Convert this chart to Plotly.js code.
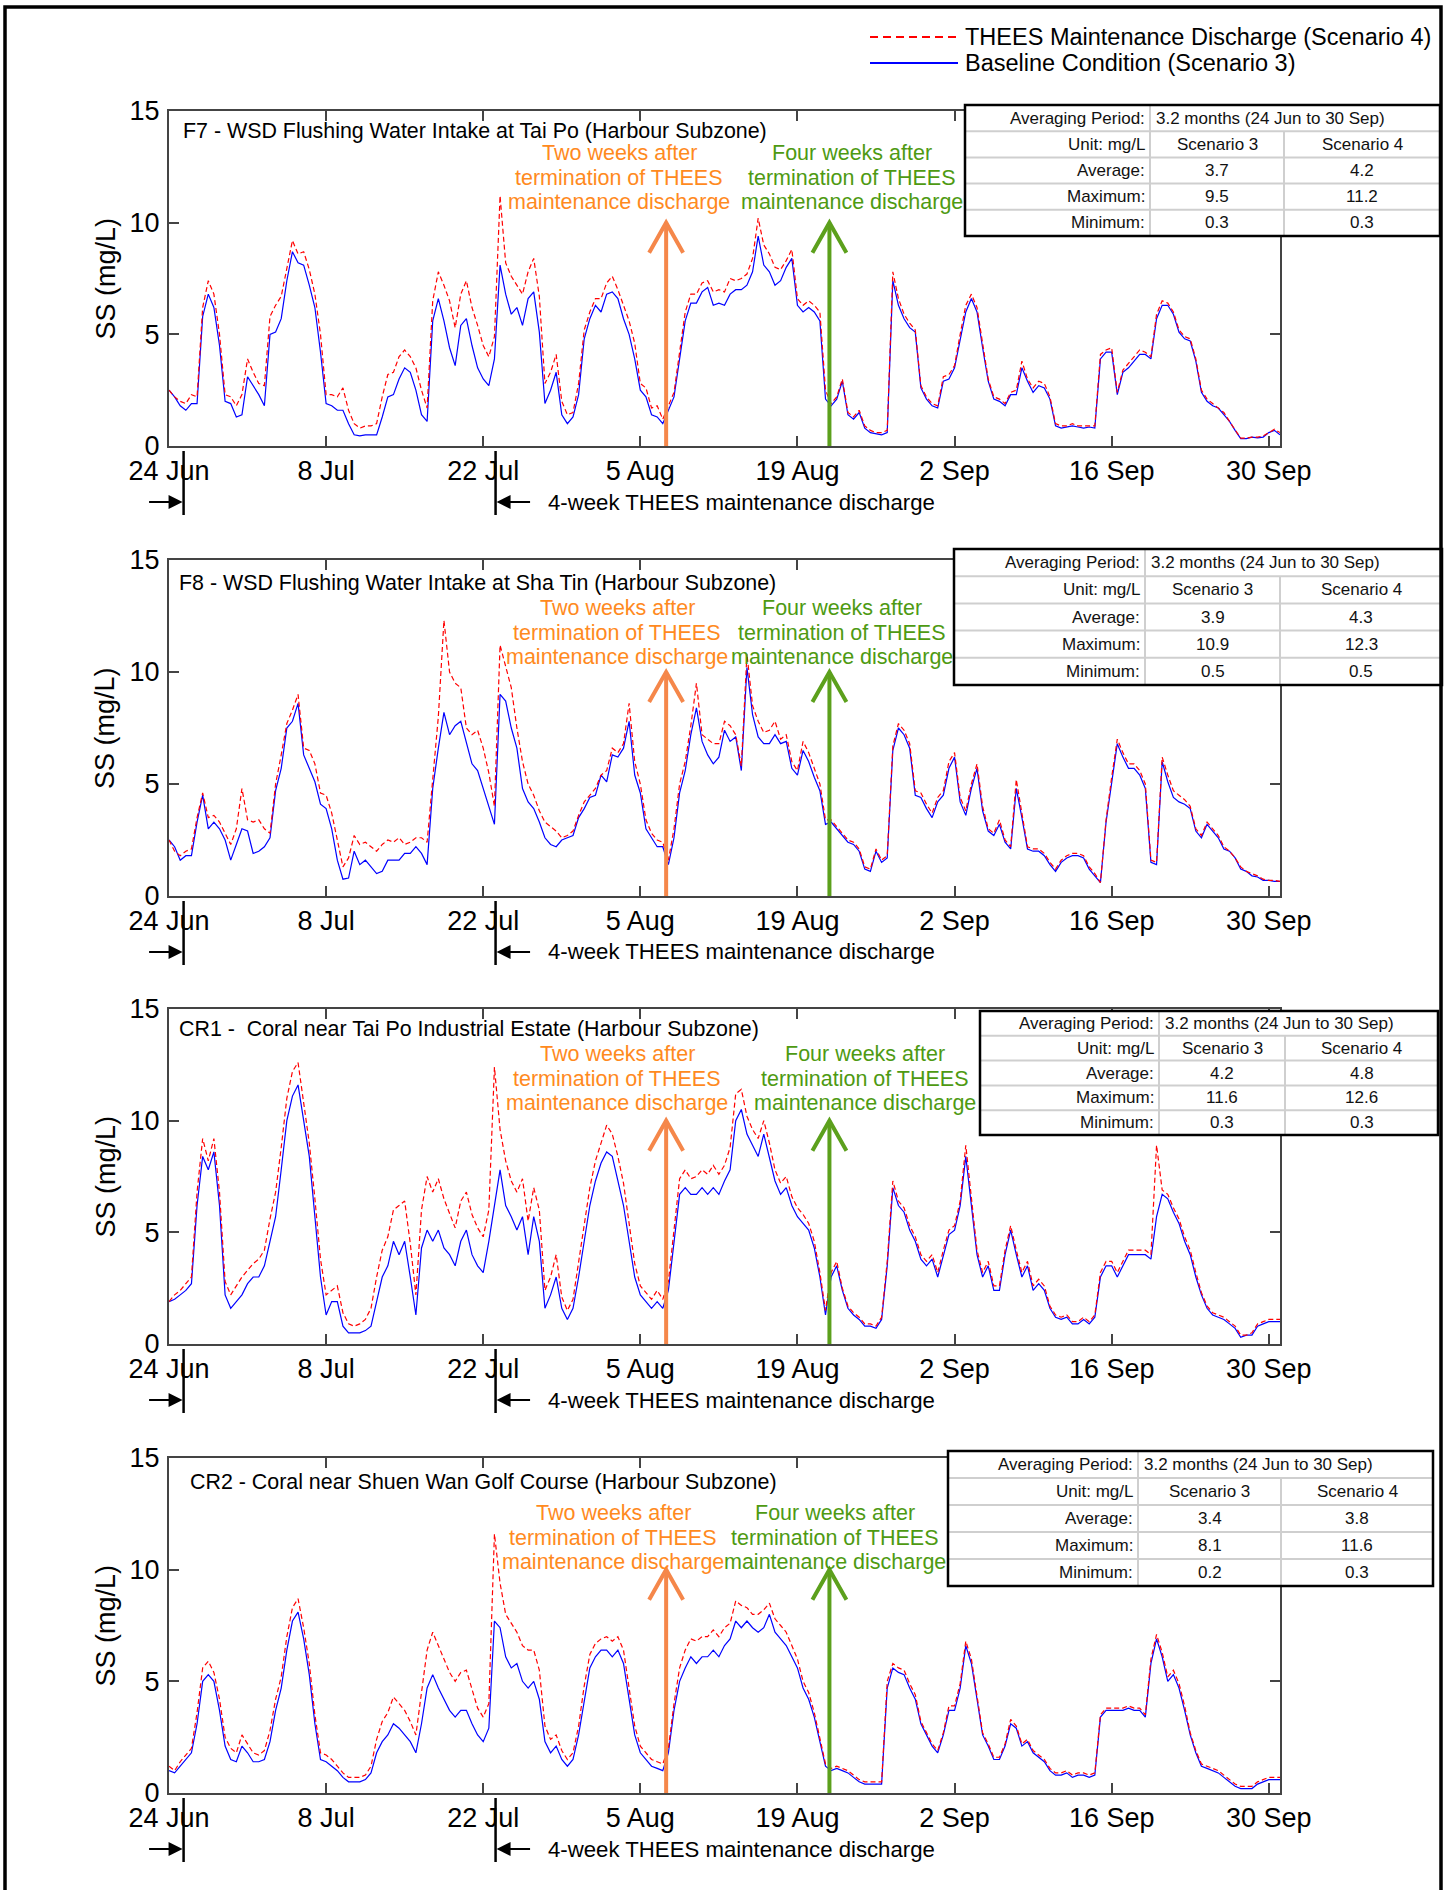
<!DOCTYPE html>
<html><head><meta charset="utf-8">
<script src="https://cdn.plot.ly/plotly-3.0.1.min.js"></script>
<style>html,body{margin:0;padding:0;background:#fff}</style>
</head><body><div id="chart" style="width:1452px;height:1890px"></div>
<script>
// ---------------- DATA ----------------
const stepDays = 0.5; // samples every half day from 24 Jun 00:00
const tickDays = [0, 14, 28, 42, 56, 70, 84, 98];
const tickLabels = ['24 Jun', '8 Jul', '22 Jul', '5 Aug', '19 Aug', '2 Sep', '16 Sep', '30 Sep'];
const yTickVals = [0, 5, 10, 15];
const dischargeStartDay = 1.3, dischargeEndDay = 29.1;
const twoWeeksAfterDay = 44.3, fourWeeksAfterDay = 58.85;
const arrowTipValue = 10;

const stationTitles = [
  'F7 - WSD Flushing Water Intake at Tai Po (Harbour Subzone)',
  'F8 - WSD Flushing Water Intake at Sha Tin (Harbour Subzone)',
  'CR1 -  Coral near Tai Po Industrial Estate (Harbour Subzone)',
  'CR2 - Coral near Shuen Wan Golf Course (Harbour Subzone)'
];
const seriesNames = ['THEES Maintenance Discharge (Scenario 4)', 'Baseline Condition (Scenario 3)'];

const f7Baseline = [
2.5,2.2,1.8,1.6,1.9,1.9,5.8,6.8,6.2,4.5,
2.0,1.9,1.3,1.4,3.1,2.7,2.3,1.8,5.0,5.1,
5.7,7.4,8.7,8.2,8.1,7.2,6.2,4.2,1.9,1.8,
1.6,1.6,1.0,0.5,0.45,0.5,0.5,0.5,1.3,2.2,
2.3,3.0,3.5,3.3,2.5,1.4,1.1,5.6,6.6,5.6,
4.4,3.6,5.4,5.7,4.5,3.5,3.0,2.7,3.9,8.1,
6.8,5.9,6.2,5.4,6.6,6.9,5.1,1.9,2.5,3.3,
1.4,1.0,1.3,2.3,4.8,5.7,6.3,6.0,6.8,6.9,
6.6,5.7,5.0,3.9,2.5,2.2,1.4,1.3,1.0,1.6,
2.2,3.9,5.6,6.4,6.4,6.9,7.1,6.3,6.4,6.3,
6.8,7.0,7.0,7.2,7.8,9.4,8.1,7.8,7.2,7.4,
8.0,8.4,6.3,6.0,6.2,6.0,5.6,2.1,1.8,2.1,
2.9,1.4,1.2,1.5,0.8,0.6,0.55,0.5,0.6,7.4,
6.3,5.7,5.3,5.1,2.6,2.1,1.8,1.7,2.9,3.0,
3.5,4.8,6.0,6.6,6.0,4.4,2.9,2.1,2.0,1.8,
2.3,2.3,3.5,2.9,2.4,2.7,2.6,2.1,0.9,0.8,
0.85,0.9,0.85,0.8,0.85,0.8,3.9,4.2,4.2,2.3,
3.3,3.5,3.8,4.1,4.1,3.9,5.7,6.3,6.3,5.9,
5.1,4.8,4.7,3.8,2.4,2.0,1.8,1.7,1.4,1.1,
0.7,0.33,0.33,0.4,0.36,0.4,0.6,0.7,0.5];
const f7Thees = [
2.5,2.2,2.0,1.9,2.3,2.2,6.2,7.4,6.8,5.0,
2.3,2.2,1.8,2.3,3.9,3.3,2.8,2.7,5.8,6.3,
6.7,8.0,9.2,8.6,8.7,7.9,6.8,5.0,2.3,2.3,
2.2,2.6,1.6,1.0,0.8,0.9,0.9,1.0,2.2,3.2,
3.3,4.0,4.3,4.0,3.5,2.5,1.7,6.5,7.8,7.2,
6.5,5.3,6.8,7.4,6.2,5.4,4.5,4.0,4.9,11.2,
8.2,7.6,7.2,6.8,7.8,8.4,6.7,2.8,3.3,4.1,
2.0,1.4,1.5,2.8,5.2,6.0,6.6,6.6,7.3,7.6,
7.0,6.3,5.6,4.6,2.8,2.6,1.7,1.8,1.2,1.8,
2.4,4.2,6.0,6.8,6.8,7.3,7.4,6.9,7.0,6.9,
7.5,7.4,7.5,7.7,8.4,10.2,9.0,8.6,8.0,7.9,
8.3,8.8,6.6,6.3,6.5,6.3,6.0,2.5,1.9,2.2,
3.0,1.5,1.3,1.6,0.9,0.7,0.6,0.6,0.7,7.8,
6.6,5.9,5.5,5.2,2.7,2.2,1.9,1.8,3.1,3.2,
3.6,5.0,6.3,6.8,6.2,4.6,3.0,2.2,2.1,1.9,
2.4,2.5,3.8,3.0,2.6,2.9,2.8,2.2,1.0,0.9,
0.9,1.0,0.9,0.9,0.9,0.9,4.1,4.3,4.4,2.4,
3.4,3.7,4.0,4.3,4.2,4.0,5.9,6.5,6.4,6.0,
5.2,4.9,4.8,3.9,2.5,2.1,1.9,1.7,1.5,1.1,
0.7,0.35,0.35,0.4,0.4,0.45,0.6,0.75,0.6];

const f8Baseline = [
2.5,2.2,1.6,1.8,1.8,3.3,4.5,3.0,3.3,3.0,
2.5,1.6,2.3,3.0,2.9,1.9,2.0,2.2,2.6,4.7,
5.7,7.5,7.8,8.6,6.3,5.7,5.1,4.1,3.9,3.0,
1.6,0.75,0.8,2.0,1.4,1.6,1.3,1.0,1.1,1.6,
1.6,1.6,1.9,1.9,2.2,1.9,1.4,4.8,6.6,8.2,
7.2,7.6,7.8,6.8,5.9,5.6,4.8,3.9,3.2,9.0,
8.7,7.5,6.6,4.8,4.2,3.9,3.3,2.6,2.3,2.2,
2.5,2.6,2.7,3.5,3.9,4.4,4.5,5.4,5.1,6.3,
6.2,6.6,7.8,5.4,4.6,3.0,2.6,2.2,2.2,1.4,
2.6,4.6,5.6,7.2,8.4,6.9,6.3,5.9,6.2,7.4,
6.9,7.1,5.6,10.2,8.1,7.1,6.8,6.8,7.2,6.8,
6.9,5.7,5.4,6.5,6.0,5.3,4.7,3.2,3.3,3.0,
2.7,2.4,2.3,2.0,1.2,1.1,2.0,1.5,1.7,6.5,
7.5,7.2,6.6,4.5,4.4,3.9,3.5,4.2,4.5,5.7,
6.2,4.2,3.6,4.8,5.7,3.8,2.9,2.7,3.2,2.4,
2.1,4.8,3.5,2.1,2.0,2.0,1.8,1.4,1.1,1.5,
1.7,1.8,1.8,1.7,1.2,0.9,0.6,3.3,5.1,6.8,
6.2,5.7,5.7,5.4,4.8,1.5,1.4,6.0,5.1,4.4,
4.2,4.1,3.9,2.9,2.6,3.2,2.9,2.6,2.1,2.0,
1.7,1.2,1.1,0.9,0.85,0.7,0.7,0.65,0.65];
const f8Thees = [
2.5,2.0,1.8,2.0,2.1,3.5,4.6,3.5,3.6,3.3,
2.8,2.3,3.0,4.8,3.4,3.3,3.4,3.0,2.8,5.0,
6.3,7.7,8.3,9.0,6.6,6.5,5.9,4.6,4.5,3.7,
2.5,1.3,1.7,2.7,2.3,2.4,2.2,2.0,2.3,2.5,
2.4,2.6,2.3,2.4,2.6,2.6,2.4,5.2,8.0,12.3,
10.0,9.5,9.3,7.5,7.2,7.4,6.6,5.5,4.0,11.2,
10.3,9.3,7.5,6.0,5.0,4.5,3.8,3.3,3.1,2.9,
2.6,2.7,2.9,3.6,4.2,4.5,4.8,5.4,5.6,6.6,
6.4,6.8,8.6,6.0,5.0,3.4,2.8,2.5,2.4,1.6,
3.0,5.0,6.0,7.6,9.5,7.2,7.0,6.8,6.8,7.8,
7.6,7.2,5.8,10.8,8.5,7.8,7.3,7.4,7.8,7.0,
7.2,6.0,5.6,6.9,6.4,5.7,5.0,3.4,3.4,3.1,
2.8,2.5,2.4,2.1,1.3,1.2,2.1,1.6,1.8,6.7,
7.7,7.4,6.8,4.7,4.6,4.1,3.7,4.4,4.7,6.0,
6.4,4.4,3.8,5.0,5.9,4.0,3.0,2.8,3.4,2.5,
2.2,5.2,3.7,2.2,2.1,2.1,1.9,1.5,1.2,1.6,
1.8,1.9,1.9,1.8,1.3,1.0,0.6,3.4,5.3,7.0,
6.4,5.9,5.9,5.6,5.0,1.6,1.5,6.2,5.4,4.7,
4.5,4.3,4.0,3.0,2.7,3.3,3.0,2.7,2.2,2.0,
1.7,1.3,1.1,1.0,0.9,0.75,0.7,0.7,0.65];

const cr1Baseline = [
1.9,2.0,2.2,2.4,2.7,6.2,8.4,7.8,8.6,6.2,
2.2,1.6,1.9,2.2,2.7,3.0,3.0,3.5,4.6,5.7,
7.8,10.0,11.1,11.6,10.0,8.4,5.7,3.0,1.3,1.9,
1.9,0.8,0.5,0.5,0.5,0.6,0.8,1.9,3.0,3.5,
4.6,4.0,4.6,3.0,1.3,4.3,5.1,4.6,5.1,4.3,
4.0,3.5,4.6,5.1,4.0,3.5,3.2,4.6,6.2,7.8,
6.2,5.7,5.1,5.7,4.0,5.7,4.6,1.6,2.2,3.0,
1.6,1.1,1.6,3.0,4.6,6.2,7.3,8.1,8.6,8.4,
7.3,6.2,4.6,3.0,2.2,1.9,1.6,1.9,1.6,2.4,
4.6,6.7,7.0,6.7,6.7,7.0,6.7,7.0,6.7,7.3,
7.8,10.0,10.5,9.4,8.9,8.4,9.4,8.4,7.3,6.7,
7.0,6.2,5.7,5.4,5.1,4.3,3.0,1.3,3.0,3.5,
2.4,1.6,1.3,1.1,0.8,0.8,0.7,1.1,3.5,7.0,
6.2,5.9,5.1,4.6,3.8,3.5,3.8,3.0,4.0,4.9,
5.1,6.2,8.4,6.2,4.0,3.0,3.5,2.4,2.4,4.0,
5.1,4.0,3.0,3.5,2.4,2.7,2.4,1.6,1.2,1.1,
1.2,0.9,0.9,1.1,0.9,1.2,3.0,3.5,3.5,3.0,
3.5,4.0,4.0,4.0,4.0,3.8,5.7,6.7,6.5,5.9,
5.4,4.6,4.0,3.0,2.2,1.6,1.3,1.2,1.1,0.9,
0.7,0.3,0.4,0.4,0.8,0.9,1.0,1.0,1.0];
const cr1Thees = [
1.9,2.2,2.4,2.7,3.0,6.8,9.2,8.2,9.2,6.8,
2.8,2.2,2.6,3.0,3.3,3.6,3.8,4.2,5.6,6.8,
8.8,11.0,12.2,12.6,10.8,9.0,6.5,3.8,2.2,2.4,
2.6,1.4,0.9,0.8,0.9,1.1,1.6,3.0,4.2,4.8,
6.0,6.2,6.4,4.5,2.2,6.0,7.5,6.8,7.4,6.5,
5.8,5.2,6.4,6.8,5.8,5.2,4.8,6.0,12.4,9.6,
8.2,7.3,6.8,7.4,5.5,7.0,6.0,2.4,3.0,4.0,
2.1,1.5,2.0,3.6,5.4,7.0,8.2,9.0,9.8,9.4,
8.4,7.2,5.4,3.6,2.6,2.3,2.0,2.4,2.0,2.8,
5.2,7.4,7.8,7.4,7.5,7.8,7.6,8.0,7.6,8.0,
8.8,11.2,11.4,10.2,9.6,9.2,10.0,9.0,7.8,7.2,
7.5,6.6,6.1,5.8,5.4,4.6,3.2,1.5,3.2,3.7,
2.5,1.7,1.4,1.2,0.9,0.9,0.8,1.2,3.7,7.3,
6.4,6.1,5.3,4.8,4.0,3.7,4.0,3.2,4.2,5.1,
5.3,6.4,8.9,6.4,4.2,3.2,3.7,2.6,2.6,4.2,
5.3,4.2,3.2,3.7,2.6,2.9,2.6,1.7,1.3,1.2,
1.3,1.0,1.0,1.2,1.0,1.3,3.2,3.7,3.7,3.2,
3.7,4.2,4.2,4.2,4.2,4.0,8.9,6.9,6.7,6.1,
5.6,4.8,4.2,3.2,2.3,1.7,1.4,1.3,1.2,1.0,
0.8,0.4,0.4,0.5,0.9,1.0,1.1,1.1,1.1];

const cr2Baseline = [
1.0,0.9,1.2,1.5,1.8,3.1,5.0,5.3,5.0,3.7,
2.1,1.5,1.4,2.1,1.8,1.4,1.4,1.5,2.3,3.7,
4.7,6.4,7.7,8.1,6.9,5.3,3.1,1.5,1.4,1.2,
1.0,0.7,0.5,0.5,0.5,0.6,0.9,1.8,2.3,2.6,
3.1,2.9,2.6,2.3,1.8,3.1,4.7,5.3,4.7,4.2,
3.7,3.4,3.7,3.7,3.1,2.6,2.3,2.9,7.7,7.4,
6.1,5.6,5.8,5.0,4.7,5.0,4.2,2.3,1.8,2.1,
1.5,1.2,1.5,2.6,4.2,5.6,6.1,6.4,6.4,6.1,
6.4,5.8,4.2,2.6,1.8,1.5,1.2,1.1,1.0,1.8,
3.7,5.0,5.6,6.1,5.8,6.1,6.1,6.4,6.1,6.6,
6.9,7.7,7.4,7.7,7.4,7.2,7.4,8.0,7.2,6.9,
6.6,6.1,5.6,4.7,4.2,3.4,2.3,1.2,1.0,1.1,
1.0,0.9,0.7,0.5,0.4,0.4,0.4,0.4,4.7,5.6,
5.4,5.3,4.7,4.2,3.1,2.6,2.1,1.8,2.6,3.7,
3.7,4.7,6.6,5.8,4.2,2.6,2.1,1.5,1.5,2.1,
3.1,2.9,2.1,2.3,1.8,1.6,1.4,1.0,0.8,0.8,
0.9,0.7,0.8,0.8,0.7,0.8,3.4,3.7,3.7,3.7,
3.7,3.8,3.7,3.7,3.4,5.8,6.9,6.1,5.0,5.3,
4.7,3.7,2.6,1.8,1.2,1.1,1.0,0.9,0.7,0.5,
0.3,0.2,0.2,0.2,0.4,0.5,0.6,0.6,0.6];
const cr2Thees = [
1.2,1.0,1.4,1.7,2.0,3.6,5.6,5.9,5.4,4.2,
2.5,2.0,1.8,2.6,2.2,1.8,1.7,1.9,2.8,4.2,
5.2,7.0,8.3,8.7,7.4,5.8,3.5,1.8,1.7,1.5,
1.2,0.9,0.7,0.7,0.7,0.8,1.2,2.4,3.2,3.6,
4.3,4.0,3.7,3.2,2.6,4.5,6.4,7.2,6.6,6.0,
5.4,5.0,5.4,5.5,4.6,3.8,3.4,4.0,11.6,9.4,
8.0,7.6,7.2,6.6,6.4,6.4,5.5,3.0,2.4,2.6,
1.9,1.5,1.8,3.0,4.8,6.2,6.7,6.9,7.0,6.8,
7.0,6.4,4.8,3.0,2.1,1.8,1.5,1.4,1.3,2.0,
4.0,5.6,6.4,6.9,6.8,7.0,7.0,7.3,7.0,7.4,
7.6,8.6,8.4,8.3,8.0,8.0,8.2,8.5,7.8,7.5,
7.2,6.6,6.0,5.0,4.5,3.6,2.5,1.3,1.1,1.2,
1.1,1.0,0.8,0.6,0.5,0.5,0.5,0.5,5.0,5.8,
5.6,5.5,4.9,4.4,3.2,2.7,2.2,1.9,2.7,3.9,
3.9,4.9,6.8,6.0,4.4,2.7,2.2,1.6,1.6,2.2,
3.3,3.0,2.2,2.4,1.9,1.7,1.5,1.1,0.9,0.9,
1.0,0.8,0.9,0.9,0.8,0.9,3.5,3.8,3.8,3.8,
3.8,3.9,3.8,3.8,3.5,6.0,7.1,6.3,5.2,5.5,
4.9,3.9,2.7,1.9,1.3,1.2,1.1,1.0,0.8,0.6,
0.4,0.3,0.3,0.3,0.5,0.6,0.7,0.7,0.7];

// summary table values (mg/L), one entry per station
const avgScenario3 = [3.7, 3.9, 4.2, 3.4];
const avgScenario4 = [4.2, 4.3, 4.8, 3.8];
const maxScenario3 = [9.5, 10.9, 11.6, 8.1];
const maxScenario4 = [11.2, 12.3, 12.6, 11.6];
const minScenario3 = [0.3, 0.5, 0.3, 0.2];
const minScenario4 = [0.3, 0.5, 0.3, 0.3];
const averagingPeriod = '3.2 months (24 Jun to 30 Sep)';

// ---------------- LAYOUT ----------------
const W = 1452, H = 1890;
const PX = v => v / W;
const PY = v => 1 - v / H;
const FONT = 'Liberation Sans, Arial, Helvetica, sans-serif';
const ORANGE_TXT = '#FF8A1E', ORANGE_ARR = '#F5874A';
const GREEN_TXT = '#4E9A12', GREEN_ARR = '#5CA01C';
const AXC = '#444';
const plotLeft = 169, plotRight = 1280;

const panels = [
 {top:111, bottom:446, titleX:181, titleY:131, noteY:153, orangeX:619, greenX:852,
  table:{l:965, t:105, r:1440, b:236, c1:1150, c2:1284}},
 {top:560, bottom:896, titleX:177, titleY:583, noteY:608, orangeX:617, greenX:842,
  table:{l:954, t:549, r:1442, b:685, c1:1145, c2:1280}},
 {top:1009, bottom:1344, titleX:177, titleY:1029, noteY:1054, orangeX:617, greenX:865,
  table:{l:980, t:1011, r:1438, b:1135, c1:1159, c2:1285}},
 {top:1458, bottom:1793, titleX:188, titleY:1482, noteY:1513, orangeX:613, greenX:835,
  table:{l:948, t:1451, r:1433, b:1586, c1:1138, c2:1281}}
];

const baselineList = [f7Baseline, f8Baseline, cr1Baseline, cr2Baseline];
const theesList = [f7Thees, f8Thees, cr1Thees, cr2Thees];

const data = [];
const layout = {
  width: W, height: H,
  margin: {l:0, r:0, t:0, b:0},
  paper_bgcolor: '#fff', plot_bgcolor: '#fff',
  showlegend: false,
  font: {family: FONT, color: '#000'},
  shapes: [], annotations: []
};

function addText(x, y, text, opts) {
  layout.annotations.push(Object.assign({
    xref: 'paper', yref: 'paper', x: PX(x), y: PY(y), text: text,
    showarrow: false, xanchor: 'left', yanchor: 'middle',
    font: {family: FONT, size: 17, color: '#111'}
  }, opts || {}));
}
function addLinePx(x0, y0, x1, y1, color, width, dash) {
  layout.shapes.push({type:'line', xref:'paper', yref:'paper', layer:'above',
    x0:PX(x0), y0:PY(y0), x1:PX(x1), y1:PY(y1),
    line:{color:color, width:width, dash: dash || 'solid'}});
}

panels.forEach((p, i) => {
  const s = i === 0 ? '' : String(i + 1);
  const xa = 'x' + s, ya = 'y' + s;
  const axStyle = {
    showline: true, linecolor: AXC, linewidth: 2, mirror: 'ticks',
    ticks: 'inside', ticklen: 10, tickwidth: 2, tickcolor: AXC,
    showgrid: false, zeroline: false, fixedrange: true,
    tickfont: {family: FONT, size: 27, color: '#000'}
  };
  layout['xaxis' + s] = Object.assign({}, axStyle, {
    domain: [PX(plotLeft), PX(plotRight)], anchor: ya, range: [0, 99],
    tickmode: 'array', tickvals: tickDays, ticktext: tickLabels, ticklabelstandoff: 0
  });
  layout['yaxis' + s] = Object.assign({}, axStyle, {
    domain: [PY(p.bottom), PY(p.top)], anchor: xa, range: [0, 15],
    tickmode: 'array', tickvals: yTickVals, ticklabelstandoff: 2
  });

  const days = baselineList[i].map((_, k) => k * stepDays);
  data.push({x: days, y: baselineList[i], xaxis: xa, yaxis: ya, type: 'scatter', mode: 'lines',
    name: seriesNames[1], line: {color: '#0000FF', width: 1.2}, hoverinfo: 'skip'});
  data.push({x: days, y: theesList[i], xaxis: xa, yaxis: ya, type: 'scatter', mode: 'lines',
    name: seriesNames[0], line: {color: '#FF0000', width: 1.2, dash: '5px,3px'}, hoverinfo: 'skip'});

  // vertical arrows (two and four weeks after)
  [[twoWeeksAfterDay, ORANGE_ARR], [fourWeeksAfterDay, GREEN_ARR]].forEach(([d, c]) => {
    layout.shapes.push({type:'line', xref:xa, yref:ya, layer:'above', x0:d, x1:d, y0:0, y1:arrowTipValue,
      line:{color:c, width:4}});
    layout.shapes.push({type:'path', xref:xa, yref:ya, layer:'above',
      xsizemode:'pixel', ysizemode:'pixel', xanchor:d, yanchor:arrowTipValue,
      path:'M-17,-30L0,0L17,-30', line:{color:c, width:4}});
  });

  // station title
  addText(p.titleX, p.titleY, stationTitles[i], {font:{family:FONT, size:21.4, color:'#000'}});

  // notes
  const orangeLines = ['Two weeks after', 'termination of THEES', 'maintenance discharge'];
  const greenLines = ['Four weeks after', 'termination of THEES', 'maintenance discharge'];
  orangeLines.forEach((t, k) => addText(p.orangeX, p.noteY + k * 24.5, t,
    {xanchor:'center', font:{family:FONT, size:21.5, color:ORANGE_TXT}}));
  greenLines.forEach((t, k) => addText(p.greenX, p.noteY + k * 24.5, t,
    {xanchor:'center', font:{family:FONT, size:21.5, color:GREEN_TXT}}));

  // y-axis title
  layout.annotations.push({xref:'paper', yref:'paper', x:PX(105), y:PY((p.top + p.bottom) / 2),
    text:'SS (mg/L)', textangle:-90, showarrow:false, xanchor:'center', yanchor:'middle',
    font:{family:FONT, size:27, color:'#000'}});

  // 4-week discharge markers
  [dischargeStartDay, dischargeEndDay].forEach(d => {
    layout.shapes.push({type:'line', xref:xa, yref:'paper', layer:'above', x0:d, x1:d,
      y0:PY(p.bottom + 5), y1:PY(p.bottom + 69), line:{color:'#000', width:2.5}});
  });
  layout.annotations.push({xref:xa, yref:'paper', x:dischargeStartDay, y:PY(p.bottom + 56), text:'',
    showarrow:true, ax:-36, ay:0, arrowhead:2, arrowsize:1.4, arrowwidth:2, arrowcolor:'#000', standoff:1});
  layout.annotations.push({xref:xa, yref:'paper', x:dischargeEndDay, y:PY(p.bottom + 56), text:'',
    showarrow:true, ax:36, ay:0, arrowhead:2, arrowsize:1.4, arrowwidth:2, arrowcolor:'#000', standoff:1});
  addText(546, p.bottom + 56, '4-week THEES maintenance discharge',
    {font:{family:FONT, size:22.2, color:'#000'}});

  // summary table
  const t = p.table;
  const rh = (t.b - t.t) / 5;
  layout.shapes.push({type:'rect', xref:'paper', yref:'paper', layer:'above',
    x0:PX(t.l), x1:PX(t.r), y0:PY(t.b), y1:PY(t.t), fillcolor:'#fff', line:{width:0}});
  for (let r = 1; r < 5; r++) addLinePx(t.l, t.t + r * rh, t.r, t.t + r * rh, '#CFCFCF', 2);
  addLinePx(t.c1, t.t, t.c1, t.b, '#CFCFCF', 2);
  addLinePx(t.c2, t.t + rh, t.c2, t.b, '#CFCFCF', 2);
  layout.shapes.push({type:'rect', xref:'paper', yref:'paper', layer:'above',
    x0:PX(t.l), x1:PX(t.r), y0:PY(t.b), y1:PY(t.t), line:{color:'#000', width:2.5}});
  const tf = {family:FONT, size:17, color:'#111'};
  const rowLabels = ['Averaging Period:', 'Unit: mg/L', 'Average:', 'Maximum:', 'Minimum:'];
  const col2 = [null, 'Scenario 3', avgScenario3[i].toFixed(1), maxScenario3[i].toFixed(1), minScenario3[i].toFixed(1)];
  const col3 = [null, 'Scenario 4', avgScenario4[i].toFixed(1), maxScenario4[i].toFixed(1), minScenario4[i].toFixed(1)];
  rowLabels.forEach((lab, r) => {
    const yc = t.t + (r + 0.5) * rh;
    addText(t.c1 - 3, yc, lab, {xanchor:'right', font:tf});
    if (r === 0) addText(t.c1 + 4, yc, averagingPeriod, {font:tf});
    else {
      addText((t.c1 + t.c2) / 2, yc, col2[r], {xanchor:'center', font:tf});
      addText((t.c2 + t.r) / 2, yc, col3[r], {xanchor:'center', font:tf});
    }
  });
});

// legend
addLinePx(870, 37, 958, 37, '#FF0000', 2, '8px,5px');
addLinePx(870, 63, 958, 63, '#0000FF', 2);
addText(963, 37, seriesNames[0], {font:{family:FONT, size:23.5, color:'#000'}});
addText(963, 63, seriesNames[1], {font:{family:FONT, size:23.5, color:'#000'}});

// outer frame
layout.shapes.push({type:'rect', xref:'paper', yref:'paper', layer:'above',
  x0:PX(5), x1:PX(1441), y0:-0.05, y1:PY(7), line:{color:'#000', width:3.5}});

Plotly.newPlot('chart', data, layout, {staticPlot:true, displayModeBar:false});
</script></body></html>
